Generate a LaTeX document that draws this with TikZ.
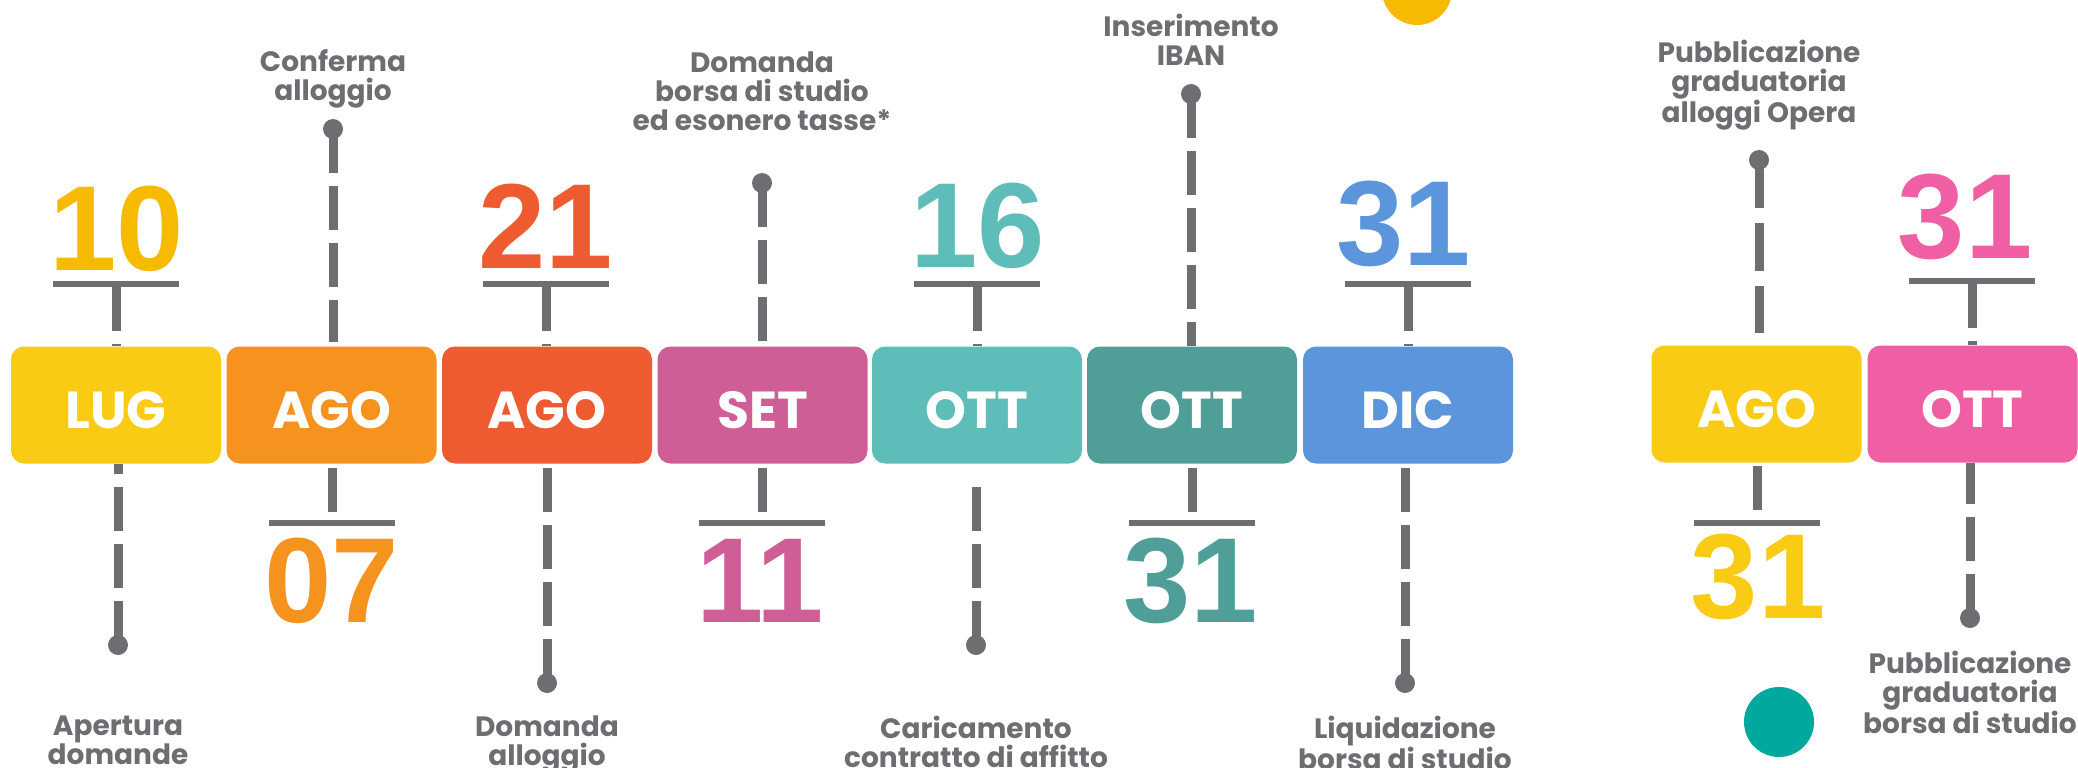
\documentclass[tikz,border=0pt]{standalone}
\usepackage{fontspec}
\newfontfamily\lblfont{Poppins}
\newfontfamily\numfont{Liberation Sans}
\definecolor{tgray}{HTML}{6D6E71}
\definecolor{cYel}{HTML}{F9CB14}
\definecolor{cYelD}{HTML}{F6BB00}
\definecolor{cOra}{HTML}{F6931E}
\definecolor{cRed}{HTML}{EE5B30}
\definecolor{cPnk}{HTML}{D05E96}
\definecolor{cTea}{HTML}{5FBDB9}
\definecolor{cDtl}{HTML}{4F9E98}
\definecolor{cBlu}{HTML}{5B96DC}
\definecolor{cPk2}{HTML}{F05FA4}
\definecolor{cTeal}{HTML}{00A89D}
\begin{document}
\begin{tikzpicture}[x=1pt,y=-1pt,
  month/.style={rounded corners=13pt, minimum width=210pt, minimum height=117pt, inner sep=0pt, text height=46pt, text depth=0pt, text=white, font=\lblfont\bfseries\fontsize{52}{52}\selectfont},
  num/.style={anchor=base, inner sep=0pt, font=\numfont\bfseries\fontsize{121}{121}\selectfont},
  lbl/.style={anchor=north, inner sep=0pt, align=center, text=tgray, font=\lblfont\bfseries\fontsize{28}{29}\selectfont},
  pin/.style={circle, fill=tgray, minimum size=20pt, inner sep=0pt},
  bar/.style={fill=tgray, minimum width=126pt, minimum height=6pt, inner sep=0pt},
  dline/.style={draw=tgray, line width=9pt, dash pattern=on 44pt off 13pt},
]
\useasboundingbox (0,0) rectangle (2078,768);

% decorative circles
\fill[cYelD] (1417,-10) circle[radius=35pt];
\fill[cTeal] (1779,722) circle[radius=35pt];

% month boxes
\node[month, fill=cYel] (b1) at (116,405) {LUG};
\node[month, fill=cOra] (b2) at (331.5,405) {AGO};
\node[month, fill=cRed] (b3) at (547,405) {AGO};
\node[month, fill=cPnk] (b4) at (762.5,405) {SET};
\node[month, fill=cTea] (b5) at (977,405) {OTT};
\node[month, fill=cDtl] (b6) at (1192,405) {OTT};
\node[month, fill=cBlu] (b7) at (1408,405) {DIC};
\node[month, fill=cYel] (b8) at (1756.5,404) {AGO};
\node[month, fill=cPk2] (b9) at (1972.5,404) {OTT};

% numbers and bars
\node[num, text=cYelD] (n1) at (117,270) {10};
\node[bar] (r1) at (116,284) {};
\node[num, text=cRed] (n3) at (546,268) {21};
\node[bar] (r3) at (546,284) {};
\node[num, text=cTea] (n5) at (978,267) {16};
\node[bar] (r5) at (977,284) {};
\node[num, text=cBlu] (n7) at (1404,265) {31};
\node[bar] (r7) at (1408,284) {};
\node[num, text=cPk2] (n9) at (1965,258) {31};
\node[bar] (r9) at (1972,281) {};

\node[num, text=cOra] (n2) at (332,622) {07};
\node[bar] (r2) at (332,523) {};
\node[num, text=cPnk] (n4) at (760,622) {11};
\node[bar] (r4) at (762,523) {};
\node[num, text=cDtl] (n6) at (1191,622) {31};
\node[bar] (r6) at (1192,523) {};
\node[num, text=cYel] (n8) at (1758,618) {31};
\node[bar] (r8) at (1757,523) {};

% pins
\node[pin] (d2) at (333,129) {};
\node[pin] (d4) at (762,183) {};
\node[pin] (d6) at (1191,94) {};
\node[pin] (d8) at (1759,160) {};
\node[pin] (d1) at (118,645) {};
\node[pin] (d3) at (547,683) {};
\node[pin] (d5) at (976,645) {};
\node[pin] (d7) at (1405,683) {};
\node[pin] (d9) at (1970,618) {};

% labels
\node[lbl] (l2) at (333,49) {Conferma\\alloggio};
\node[lbl] (l4) at (762,52) {Domanda\\borsa di studio\\ed esonero tasse*};
\node[lbl] (l6) at (1191,14) {Inserimento\\IBAN};
\node[lbl] (l8) at (1759,40) {Pubblicazione\\graduatoria\\alloggi Opera};
\node[lbl] (l1) at (118,716) {Apertura\\domande};
\node[lbl] (l3) at (547,716) {Domanda\\alloggio};
\node[lbl] (l5) at (976,716) {Caricamento\\contratto di affitto};
\node[lbl] (l7) at (1405,716) {Liquidazione\\borsa di studio};
\node[lbl] (l9) at (1970,651) {Pubblicazione\\graduatoria\\borsa di studio};

% connectors: pins
\draw[dline] (d2.center) -- ([yshift=4pt]d2.center |- b2.north);
\draw[dline] (d4.center) -- ([yshift=4pt]d4.center |- b4.north);
\draw[dline] (d6.center) -- (d6.center |- b6.north);
\draw[dline, dash pattern=on 48pt off 15pt] (d8.center) -- ([yshift=12pt]d8.center |- b8.north);
\draw[dline] (d1.center) -- (d1.center |- b1.south);
\draw[dline] (d3.center) -- (d3.center |- b3.south);
\draw[dline] (d5.center) -- ([yshift=-14pt]d5.center |- b5.south);
\draw[dline] (d7.center) -- (d7.center |- b7.south);
\draw[dline] (d9.center) -- (d9.center |- b9.south);

% connectors: bars
\draw[dline] (r1.south) -- (r1.south |- b1.north);
\draw[dline] (r3.south) -- (r3.south |- b3.north);
\draw[dline] (r5.south) -- (r5.south |- b5.north);
\draw[dline] (r7.south) -- (r7.south |- b7.north);
\draw[dline] (r9.south) -- (r9.south |- b9.north);
\draw[dline] ([yshift=-4pt]b2.south -| r2.north) -- (r2.north);
\draw[dline] ([yshift=-4pt]b4.south -| r4.north) -- (r4.north);
\draw[dline] ([yshift=-4pt]b6.south -| r6.north) -- (r6.north);
\draw[dline] ([yshift=-3pt]b8.south -| r8.north) -- (r8.north);
\end{tikzpicture}
\end{document}
